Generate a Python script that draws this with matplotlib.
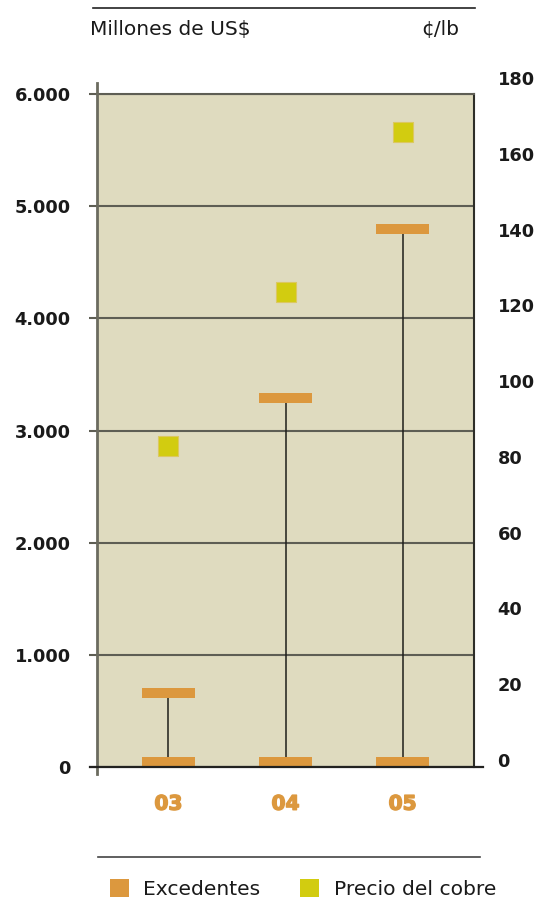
import matplotlib
matplotlib.use("Agg")
import matplotlib.pyplot as plt
import matplotlib.patheffects as pe
from matplotlib.lines import Line2D
from matplotlib.patches import Patch
from matplotlib.ticker import FuncFormatter

# Data
years = ["03", "04", "05"]
excedentes = [660, 3290, 4800]          # millones de US$
precio_cobre = [83, 123.5, 165.7]       # ¢/lb
left_ticks = [0, 1000, 2000, 3000, 4000, 5000, 6000]
right_ticks = [0, 20, 40, 60, 80, 100, 120, 140, 160, 180]

BG = "#dfdbbf"
ORANGE = "#dc983e"
YELLOW = "#d2cc10"
GRID = "#5e5e54"
TXT = "#1a1a1a"

W, H = 538, 898
fig = plt.figure(figsize=(W / 100, H / 100), dpi=100)

# Main axes (millones de US$)
x0, x1 = 97, 474
yb, yt = 767, 94
ax = fig.add_axes([x0 / W, 1 - yb / H, (x1 - x0) / W, (yb - yt) / H])
ax.set_facecolor(BG)
ax.set_xlim(-0.61, 2.61)
ax.set_ylim(0, 6000)

xs = list(range(len(years)))
marker_h = 90
bar_w = 0.45

# Stems joining the base marker with the value marker
ax.vlines(xs, 0, excedentes, color="#1e1e1a", linewidth=1.1, zorder=3)
# Base markers and value markers
ax.bar(xs, [marker_h] * len(xs), bottom=0, width=bar_w, color=ORANGE, zorder=4)
ax.bar(xs, [marker_h] * len(xs), bottom=[v - marker_h / 2 for v in excedentes],
       width=bar_w, color=ORANGE, zorder=4)

# Grid and ticks
ax.set_yticks(left_ticks)
ax.yaxis.set_major_formatter(FuncFormatter(lambda v, p: f"{v:,.0f}".replace(",", ".")))
ax.grid(axis="y", color=GRID, linewidth=1.5, zorder=1)
ax.set_axisbelow(True)
ax.tick_params(axis="y", direction="out", length=6, width=1.5, color=GRID, pad=13,
               labelsize=12.8, labelcolor=TXT)
for lab in ax.get_yticklabels():
    lab.set_fontweight("bold")

ax.set_xticks(xs)
ax.set_xticklabels(years, fontsize=14.5, fontweight="heavy", color=ORANGE)
for lab in ax.get_xticklabels():
    lab.set_path_effects([pe.withStroke(linewidth=1.0, foreground=ORANGE)])
ax.tick_params(axis="x", length=0, pad=20)

for side in ("left", "bottom"):
    ax.spines[side].set_visible(False)
ax.spines["top"].set_color(GRID)
ax.spines["top"].set_linewidth(1.5)
ax.spines["right"].set_color("#2e2e28")
ax.spines["right"].set_linewidth(1.5)

# Extended left and bottom axis lines
ax.add_line(Line2D([0, 0], [(yb - 774) / (yb - yt), (yb - 83) / (yb - yt)],
                   transform=ax.transAxes, color="#6b6b5f", linewidth=2,
                   clip_on=False, zorder=6))
ax.add_line(Line2D([(90 - x0) / (x1 - x0), (483 - x0) / (x1 - x0)], [0, 0],
                   transform=ax.transAxes, color="#222220", linewidth=1.6,
                   clip_on=False, zorder=6))

# Secondary scale (¢/lb)
rb, rt = 760, 78
ax2 = fig.add_axes([x0 / W, 1 - rb / H, (x1 - x0) / W, (rb - rt) / H])
ax2.set_xlim(ax.get_xlim())
ax2.set_ylim(0, 180)
ax2.patch.set_visible(False)
for s in ax2.spines.values():
    s.set_visible(False)
ax2.set_xticks([])
ax2.yaxis.tick_right()
ax2.set_yticks(right_ticks)
ax2.tick_params(axis="y", length=0, pad=17, labelsize=12.8, labelcolor=TXT)
for lab in ax2.get_yticklabels():
    lab.set_fontweight("bold")
ax2.plot(xs, precio_cobre, linestyle="none", marker="s", markersize=14.2,
         markerfacecolor=YELLOW, markeredgecolor="#dcc860", markeredgewidth=0.8,
         zorder=5)

# Header
fig.add_artist(Line2D([93 / W, 475 / W], [1 - 8 / H] * 2, color="#222222", linewidth=1.2))
fig.text(90 / W, 1 - 30 / H, "Millones de US$", ha="left", va="center",
         fontsize=14.5, color=TXT)
fig.text(459 / W, 1 - 30 / H, "¢/lb", ha="right", va="center",
         fontsize=14.5, color=TXT)

# Legend
fig.add_artist(Line2D([98 / W, 480 / W], [1 - 857 / H] * 2, color="#444444", linewidth=1.2))
handles = [Patch(facecolor=ORANGE, edgecolor="none", label="Excedentes"),
           Patch(facecolor=YELLOW, edgecolor="none", label="Precio del cobre")]
fig.legend(handles=handles, loc="center left", bbox_to_anchor=(110 / W, 1 - 889 / H),
           ncol=2, frameon=False, fontsize=14.6, handlelength=0.95, handleheight=0.95,
           handletextpad=0.7, columnspacing=1.95, borderpad=0, borderaxespad=0,
           labelcolor=TXT)

fig.savefig("out.png", dpi=100)
